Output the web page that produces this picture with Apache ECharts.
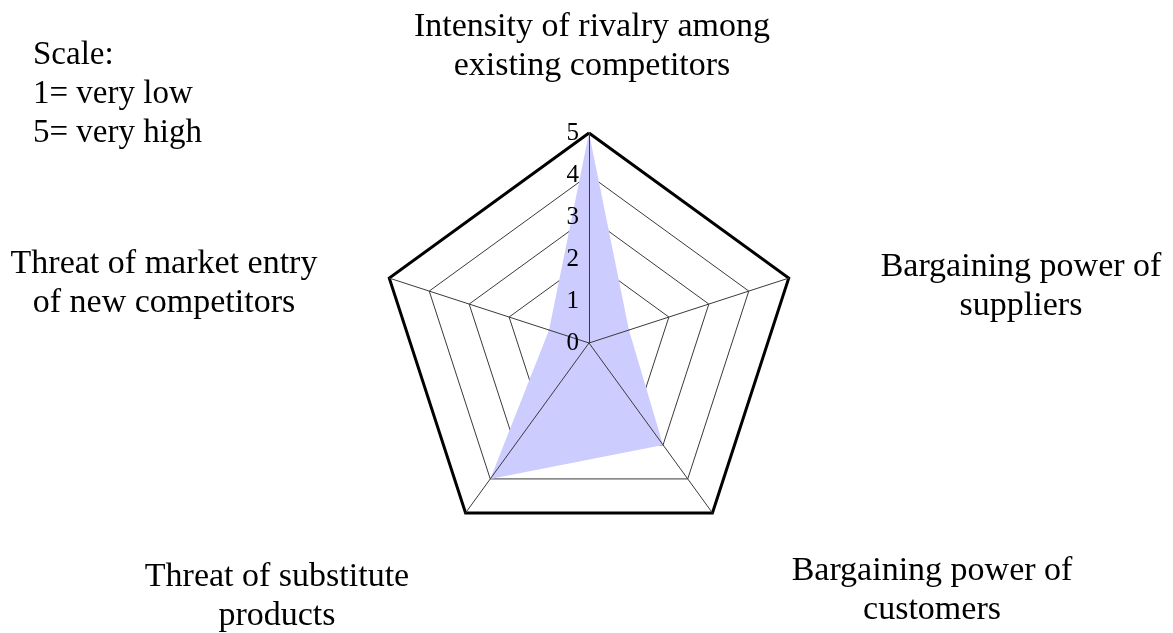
<!DOCTYPE html>
<html>
<head>
<meta charset="utf-8">
<script src="https://cdn.jsdelivr.net/npm/echarts@6/dist/echarts.min.js"></script>
<style>
  html, body { margin: 0; padding: 0; background: #fff; }
  #main { width: 1173px; height: 633px; }
</style>
</head>
<body>
<div id="main"></div>
<script>
// indicators in ECharts order (counterclockwise from the top)
var forceNames = [
    'Intensity of rivalry among\nexisting competitors',
    'Threat of market entry\nof new competitors',
    'Threat of substitute\nproducts',
    'Bargaining power of\ncustomers',
    'Bargaining power of\nsuppliers'
];
var forceValues = [5, 1, 4, 3, 1];
var scaleMax = 5;
var scaleLines = ['Scale:', '1= very low', '5= very high'];

var cx = 589, cy = 343, R = 210;
var serif = '"Liberation Serif", "Times New Roman", serif';

// where each name sits (text block centre), relative to the radar centre
var nameOffsets = [[3, -296], [-425, -59], [-312, 254], [343, 248], [432, -56]];

var myChart = echarts.init(document.getElementById('main'));

var indicatorsBottom = forceNames.map(function (n) {
    return { name: n, min: 0, max: scaleMax };
});
var indicatorsTop = forceNames.map(function (n, i) {
    var ind = { name: n, min: 0, max: scaleMax };
    if (i === 0) ind.axisLabel = { show: true };
    return ind;
});

// only the outermost ring of the top radar is drawn
var outerRing = [];
for (var k = 0; k <= scaleMax; k++) outerRing.push(k === scaleMax ? '#000' : 'rgba(0,0,0,0)');

var graphics = forceNames.map(function (n, i) {
    return {
        type: 'text',
        x: cx + nameOffsets[i][0],
        y: cy + nameOffsets[i][1],
        style: {
            text: n,
            font: '34px ' + serif,
            lineHeight: 39,
            fill: '#000',
            textAlign: 'center',
            textVerticalAlign: 'middle'
        }
    };
});
graphics.push({
    type: 'text',
    x: 33,
    y: 94,
    style: {
        text: scaleLines.join('\n'),
        font: '33px ' + serif,
        lineHeight: 39,
        fill: '#000',
        textAlign: 'left',
        textVerticalAlign: 'middle'
    }
});

var option = {
    backgroundColor: '#fff',
    animation: false,
    radar: [{
        // inner rings, below the filled area
        center: [cx, cy],
        radius: R,
        shape: 'polygon',
        startAngle: 90,
        splitNumber: scaleMax,
        indicator: indicatorsBottom,
        axisName: { show: false },
        axisLine: { show: false },
        axisTick: { show: false },
        axisLabel: { show: false },
        splitLine: { lineStyle: { color: '#3a3a3a', width: 1 } },
        splitArea: { show: false },
        z: 0
    }, {
        // spokes, tick labels and the thick outer border, above the filled area
        center: [cx, cy],
        radius: R,
        shape: 'polygon',
        startAngle: 90,
        splitNumber: scaleMax,
        indicator: indicatorsTop,
        axisName: { show: false },
        axisLine: { show: true, lineStyle: { color: '#3a3a3a', width: 1 } },
        axisTick: { show: false },
        axisLabel: {
            show: false,
            margin: 10,
            color: '#000',
            fontFamily: serif,
            fontSize: 25
        },
        splitLine: { lineStyle: { color: outerRing, width: 3 } },
        splitArea: { show: false },
        z: 5
    }],
    graphic: graphics,
    series: [{
        type: 'radar',
        radarIndex: 0,
        symbol: 'none',
        lineStyle: { width: 0 },
        areaStyle: { color: '#ccccff', opacity: 1 },
        data: [{ value: forceValues, name: 'Five forces' }]
    }]
};

myChart.setOption(option);
</script>
</body>
</html>
